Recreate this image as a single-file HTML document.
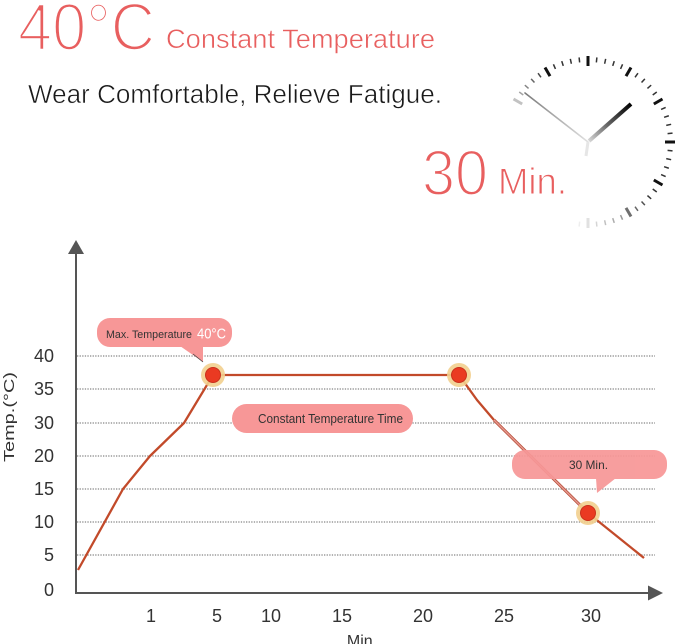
<!DOCTYPE html>
<html>
<head>
<meta charset="utf-8">
<style>
html,body{margin:0;padding:0;background:#fff;}
body{width:679px;height:644px;overflow:hidden;}
svg{display:block;}
text{font-family:"Liberation Sans","DejaVu Sans",sans-serif;}
</style>
</head>
<body>
<svg width="679" height="644" viewBox="0 0 679 644" xmlns="http://www.w3.org/2000/svg">
<defs>
  <linearGradient id="hh" gradientUnits="userSpaceOnUse" x1="588" y1="142" x2="631" y2="104">
    <stop offset="0" stop-color="#dddddd"/>
    <stop offset="0.45" stop-color="#666"/>
    <stop offset="1" stop-color="#000"/>
  </linearGradient>
  <linearGradient id="mh" gradientUnits="userSpaceOnUse" x1="588" y1="142" x2="525" y2="93">
    <stop offset="0" stop-color="#e0e0e0"/>
    <stop offset="1" stop-color="#7a7a7a"/>
  </linearGradient>
</defs>

<!-- Header texts -->
<text x="18" y="50" font-size="67" fill="#e85f5f" stroke="#fff" stroke-width="2.6" textLength="137" lengthAdjust="spacingAndGlyphs">40°C</text>
<text x="166" y="48" font-size="27" fill="#e85f5f" stroke="#fff" stroke-width="0.5" textLength="269" lengthAdjust="spacingAndGlyphs">Constant Temperature</text>
<text x="28" y="103" font-size="25.5" fill="#1a1a1a" stroke="#fff" stroke-width="0.5" textLength="414" lengthAdjust="spacingAndGlyphs">Wear Comfortable, Relieve Fatigue.</text>
<text x="422" y="195" font-size="64" fill="#e85f5f" stroke="#fff" stroke-width="2.2" textLength="66" lengthAdjust="spacingAndGlyphs">30</text>
<text x="498" y="194" font-size="37" fill="#e85f5f" stroke="#fff" stroke-width="1" textLength="69" lengthAdjust="spacingAndGlyphs">Min.</text>

<!-- Clock ticks -->
<g>
  <line x1="588" y1="56" x2="588" y2="66" stroke="#111" stroke-width="3" transform="rotate(0 588 142)"/>
  <line x1="588" y1="57" x2="588" y2="62" stroke="#333" stroke-width="1.5" transform="rotate(6 588 142)"/>
  <line x1="588" y1="57" x2="588" y2="62" stroke="#333" stroke-width="1.5" transform="rotate(12 588 142)"/>
  <line x1="588" y1="57" x2="588" y2="62" stroke="#333" stroke-width="1.5" transform="rotate(18 588 142)"/>
  <line x1="588" y1="57" x2="588" y2="62" stroke="#333" stroke-width="1.5" transform="rotate(24 588 142)"/>
  <line x1="588" y1="56" x2="588" y2="66" stroke="#111" stroke-width="3" transform="rotate(30 588 142)"/>
  <line x1="588" y1="57" x2="588" y2="62" stroke="#333" stroke-width="1.5" transform="rotate(36 588 142)"/>
  <line x1="588" y1="57" x2="588" y2="62" stroke="#333" stroke-width="1.5" transform="rotate(42 588 142)"/>
  <line x1="588" y1="57" x2="588" y2="62" stroke="#333" stroke-width="1.5" transform="rotate(48 588 142)"/>
  <line x1="588" y1="57" x2="588" y2="62" stroke="#333" stroke-width="1.5" transform="rotate(54 588 142)"/>
  <line x1="588" y1="56" x2="588" y2="66" stroke="#111" stroke-width="3" transform="rotate(60 588 142)"/>
  <line x1="588" y1="57" x2="588" y2="62" stroke="#333" stroke-width="1.5" transform="rotate(66 588 142)"/>
  <line x1="588" y1="57" x2="588" y2="62" stroke="#333" stroke-width="1.5" transform="rotate(72 588 142)"/>
  <line x1="588" y1="57" x2="588" y2="62" stroke="#333" stroke-width="1.5" transform="rotate(78 588 142)"/>
  <line x1="588" y1="57" x2="588" y2="62" stroke="#333" stroke-width="1.5" transform="rotate(84 588 142)"/>
  <line x1="588" y1="55" x2="588" y2="65" stroke="#111" stroke-width="3" transform="rotate(90 588 142)"/>
  <line x1="588" y1="57" x2="588" y2="62" stroke="#333" stroke-width="1.5" transform="rotate(96 588 142)"/>
  <line x1="588" y1="57" x2="588" y2="62" stroke="#333" stroke-width="1.5" transform="rotate(102 588 142)"/>
  <line x1="588" y1="57" x2="588" y2="62" stroke="#333" stroke-width="1.5" transform="rotate(108 588 142)"/>
  <line x1="588" y1="57" x2="588" y2="62" stroke="#333" stroke-width="1.5" transform="rotate(114 588 142)"/>
  <line x1="588" y1="56" x2="588" y2="66" stroke="#111" stroke-width="3" transform="rotate(120 588 142)"/>
  <line x1="588" y1="57" x2="588" y2="62" stroke="#333" stroke-width="1.5" transform="rotate(126 588 142)"/>
  <line x1="588" y1="57" x2="588" y2="62" stroke="#333" stroke-width="1.5" transform="rotate(132 588 142)"/>
  <line x1="588" y1="57" x2="588" y2="62" stroke="#333" stroke-width="1.5" transform="rotate(138 588 142)" opacity="0.85"/>
  <line x1="588" y1="57" x2="588" y2="62" stroke="#333" stroke-width="1.5" transform="rotate(144 588 142)" opacity="0.75"/>
  <line x1="588" y1="56" x2="588" y2="66" stroke="#111" stroke-width="3" transform="rotate(150 588 142)" opacity="0.6"/>
  <line x1="588" y1="57" x2="588" y2="62" stroke="#333" stroke-width="1.5" transform="rotate(156 588 142)" opacity="0.5"/>
  <line x1="588" y1="57" x2="588" y2="62" stroke="#333" stroke-width="1.5" transform="rotate(162 588 142)" opacity="0.4"/>
  <line x1="588" y1="57" x2="588" y2="62" stroke="#333" stroke-width="1.5" transform="rotate(168 588 142)" opacity="0.3"/>
  <line x1="588" y1="57" x2="588" y2="62" stroke="#333" stroke-width="1.5" transform="rotate(174 588 142)" opacity="0.2"/>
  <line x1="588" y1="56" x2="588" y2="66" stroke="#111" stroke-width="3" transform="rotate(180 588 142)" opacity="0.12"/>
  <line x1="588" y1="57" x2="588" y2="62" stroke="#333" stroke-width="1.5" transform="rotate(186 588 142)" opacity="0.08"/>
  <line x1="588" y1="56" x2="588" y2="66" stroke="#111" stroke-width="3" transform="rotate(300 588 142)" opacity="0.25"/>
  <line x1="588" y1="57" x2="588" y2="62" stroke="#333" stroke-width="1.5" transform="rotate(306 588 142)" opacity="0.45"/>
  <line x1="588" y1="57" x2="588" y2="62" stroke="#333" stroke-width="1.5" transform="rotate(312 588 142)" opacity="0.6"/>
  <line x1="588" y1="57" x2="588" y2="62" stroke="#333" stroke-width="1.5" transform="rotate(318 588 142)" opacity="0.75"/>
  <line x1="588" y1="57" x2="588" y2="62" stroke="#333" stroke-width="1.5" transform="rotate(324 588 142)" opacity="0.9"/>
  <line x1="588" y1="56" x2="588" y2="66" stroke="#111" stroke-width="3" transform="rotate(330 588 142)"/>
  <line x1="588" y1="57" x2="588" y2="62" stroke="#333" stroke-width="1.5" transform="rotate(336 588 142)"/>
  <line x1="588" y1="57" x2="588" y2="62" stroke="#333" stroke-width="1.5" transform="rotate(342 588 142)"/>
  <line x1="588" y1="57" x2="588" y2="62" stroke="#333" stroke-width="1.5" transform="rotate(348 588 142)"/>
  <line x1="588" y1="57" x2="588" y2="62" stroke="#333" stroke-width="1.5" transform="rotate(354 588 142)"/>
</g>
<!-- Clock hands -->
<line x1="588" y1="142" x2="525" y2="93" stroke="url(#mh)" stroke-width="1.6" stroke-linecap="round"/>
<line x1="589" y1="141" x2="631" y2="104" stroke="url(#hh)" stroke-width="4" stroke-linecap="butt"/>
<line x1="588" y1="142" x2="586" y2="156" stroke="#e6e6e6" stroke-width="3"/>

<!-- Gridlines -->
<g stroke="#9a9a9a" stroke-width="1.4" stroke-dasharray="1.3 1.3">
  <line x1="77" y1="356" x2="655" y2="356"/>
  <line x1="77" y1="389" x2="655" y2="389"/>
  <line x1="77" y1="423" x2="655" y2="423"/>
  <line x1="77" y1="456" x2="655" y2="456"/>
  <line x1="77" y1="489" x2="655" y2="489"/>
  <line x1="77" y1="522" x2="655" y2="522"/>
  <line x1="77" y1="555" x2="655" y2="555"/>
</g>

<!-- Axes -->
<g stroke="#555" stroke-width="2" fill="none">
  <line x1="76" y1="252" x2="76" y2="594"/>
  <line x1="75" y1="593" x2="650" y2="593"/>
</g>
<polygon points="76,240 68,254 84,254" fill="#555"/>
<polygon points="663,593 648,585.5 648,600.5" fill="#555"/>

<!-- Y labels -->
<g font-size="18" fill="#333" text-anchor="end">
  <text x="54" y="362">40</text>
  <text x="54" y="395">35</text>
  <text x="54" y="429">30</text>
  <text x="54" y="462">20</text>
  <text x="54" y="495">15</text>
  <text x="54" y="528">10</text>
  <text x="54" y="561">5</text>
  <text x="54" y="596">0</text>
</g>
<text transform="translate(14,462) rotate(-90)" font-size="15" fill="#333" textLength="90" lengthAdjust="spacingAndGlyphs">Temp.(°C)</text>

<!-- X labels -->
<g font-size="18" fill="#333" text-anchor="middle">
  <text x="151" y="622">1</text>
  <text x="217" y="622">5</text>
  <text x="271" y="622">10</text>
  <text x="342" y="622">15</text>
  <text x="423" y="622">20</text>
  <text x="504" y="622">25</text>
  <text x="591" y="622">30</text>
</g>
<text x="362" y="646" font-size="16" fill="#333" text-anchor="middle">Min.</text>

<!-- Data line -->
<polyline points="78,570 123,489 150,456 184,423 213,375 459,375 477,400 494,420" fill="none" stroke="#c24a2a" stroke-width="2.3" stroke-linejoin="round"/>
<line x1="494" y1="420" x2="588" y2="513" stroke="#b8503a" stroke-width="3"/>
<line x1="494" y1="420" x2="588" y2="513" stroke="#e79a92" stroke-width="1.4"/>
<line x1="588" y1="513" x2="644" y2="558" stroke="#c24a2a" stroke-width="2.3"/>

<!-- Callouts -->
<g>
  <rect x="97" y="318" width="135" height="29" rx="13" fill="#f79797"/>
  <polygon points="180,346 203,346 203,362" fill="#f79797"/>
  <line x1="193" y1="354" x2="203" y2="362" stroke="#444" stroke-width="0.8"/>
  <text x="106" y="338" font-size="11" fill="#333" textLength="86" lengthAdjust="spacingAndGlyphs">Max. Temperature</text>
  <text x="197" y="338.5" font-size="15" fill="#fff" textLength="29" lengthAdjust="spacingAndGlyphs">40°C</text>
</g>
<g>
  <rect x="232" y="404" width="181" height="29" rx="14.5" fill="#f79797"/>
  <text x="258" y="423" font-size="12.5" fill="#333" textLength="145" lengthAdjust="spacingAndGlyphs">Constant Temperature Time</text>
</g>
<g opacity="0.93">
  <rect x="512" y="450" width="155" height="29" rx="13" fill="#f79797"/>
  <polygon points="596,478 616,478 597,493" fill="#f79797"/>
</g>
<text x="569" y="469" font-size="12" fill="#333" textLength="39" lengthAdjust="spacingAndGlyphs">30 Min.</text>

<!-- Dots -->
<g>
  <circle cx="213" cy="375" r="12" fill="#f2cf8e" opacity="0.9"/>
  <circle cx="213" cy="375" r="7.5" fill="#ea3a22" stroke="#c9301c" stroke-width="1"/>
  <circle cx="459" cy="375" r="12" fill="#f2cf8e" opacity="0.9"/>
  <circle cx="459" cy="375" r="7.5" fill="#ea3a22" stroke="#c9301c" stroke-width="1"/>
  <circle cx="588" cy="513" r="12" fill="#f2cf8e" opacity="0.9"/>
  <circle cx="588" cy="513" r="7.5" fill="#ea3a22" stroke="#c9301c" stroke-width="1"/>
</g>
</svg>
</body>
</html>
